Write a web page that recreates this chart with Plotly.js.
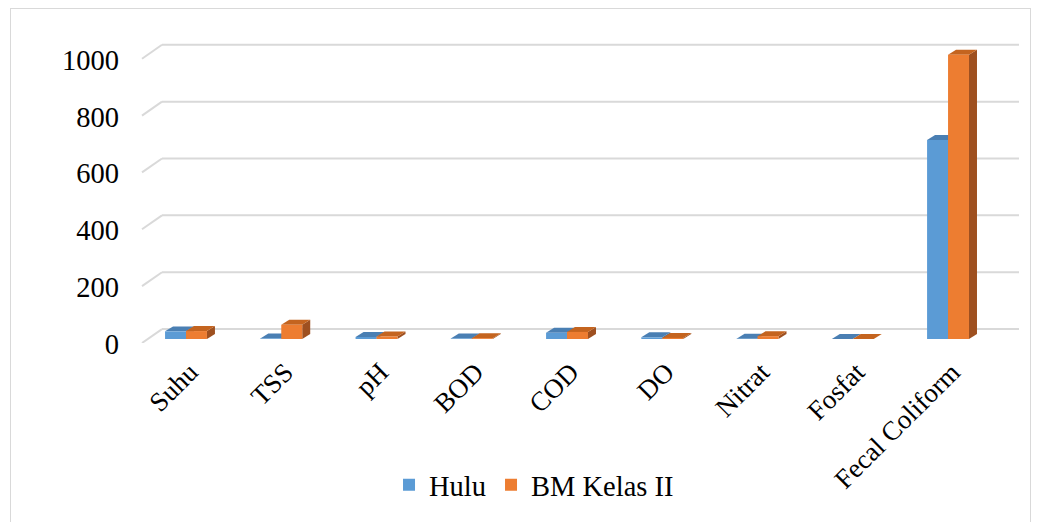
<!DOCTYPE html>
<html>
<head>
<meta charset="utf-8">
<script src="https://cdn.plot.ly/plotly-3.0.1.min.js"></script>
<style>
  html, body { margin: 0; padding: 0; background: #ffffff; }
  #chart { width: 1042px; height: 522px; position: relative; }
  #frame { position: absolute; left: 10px; top: 8px; width: 1021px; height: 530px;
           border: 1px solid #d9d9d9; box-sizing: border-box; pointer-events: none; }
</style>
</head>
<body>
<div id="chart"></div>
<div id="frame"></div>
<script>
// ---- data ----
const categories = ["Suhu", "TSS", "pH", "BOD", "COD", "DO", "Nitrat", "Fosfat", "Fecal Coliform"];
const huluValues = [27, 2, 7.2, 2, 22, 6, 1, 0.1, 700];
const bmValues   = [28, 50, 9, 3, 25, 4, 10, 0.2, 1000];
const seriesNames = ["Hulu", "BM Kelas II"];
const yTicks = [0, 200, 400, 600, 800, 1000];

// ---- geometry / styling ----
const W = 1042, H = 522;
const M = {l: 142, r: 23, t: 30, b: 177};
const plotW = W - M.l - M.r, plotH = H - M.t - M.b;
const xRange = [-0.462, 8.745];
const yRange = [-14, 1087];
const pxPerX = plotW / (xRange[1] - xRange[0]);
const pxPerY = plotH / (yRange[1] - yRange[0]);
const BAR_W = 0.22;              // each bar width in category units (bargap 0.56)
const BAR_DX = 8 / pxPerX;       // bar depth, horizontal
const BAR_DY = 5 / pxPerY;       // bar depth, vertical
const WALL_DX = 20 / plotW;      // wall depth in paper units
const GRID_BACK = 10 / pxPerY;   // back gridline above bar zero
const GRID_FRONT = -4 / pxPerY;  // front floor edge below bar zero

const colors = {
  hulu: {front: "#5b9bd5", top: "#4a7fb3", side: "#41719c"},
  bm:   {front: "#ed7d31", top: "#c4641f", side: "#9e5020"}
};
const FONT = "Liberation Serif, Times New Roman, serif";
const FS = 28.5;
const FSX = 27;

const shapes = [];
// gridlines (back wall + left wall diagonals)
yTicks.forEach(t => {
  shapes.push({type: "line", layer: "below", xref: "paper", yref: "y",
    x0: WALL_DX, x1: 1, y0: t + GRID_BACK, y1: t + GRID_BACK,
    line: {color: "#d9d9d9", width: 2}});
  shapes.push({type: "line", layer: "below", xref: "paper", yref: "y",
    x0: 0, x1: WALL_DX, y0: t + GRID_FRONT, y1: t + GRID_BACK,
    line: {color: "#d9d9d9", width: 2}});
});

function poly(pts) {
  return "M" + pts.map(p => p[0] + "," + p[1]).join(" L") + " Z";
}
function faces(x0, v, c) {
  const x1 = x0 + BAR_W;
  shapes.push({type: "path", layer: "between", xref: "x", yref: "y",
    path: poly([[x1, 0], [x1 + BAR_DX, BAR_DY], [x1 + BAR_DX, v + BAR_DY], [x1, v]]),
    fillcolor: c.side, line: {width: 0}});
  shapes.push({type: "path", layer: "between", xref: "x", yref: "y",
    path: poly([[x0, v], [x1, v], [x1 + BAR_DX, v + BAR_DY], [x0 + BAR_DX, v + BAR_DY]]),
    fillcolor: c.top, line: {width: 0}});
}
categories.forEach((c, i) => {
  faces(i - BAR_W, huluValues[i], colors.hulu);
  faces(i, bmValues[i], colors.bm);
});

const idx = categories.map((c, i) => i);
const traces = [
  {type: "bar", name: seriesNames[0], x: idx, y: huluValues,
   marker: {color: colors.hulu.front, line: {width: 0}}, hoverinfo: "skip"},
  {type: "bar", name: seriesNames[1], x: idx, y: bmValues,
   marker: {color: colors.bm.front, line: {width: 0}}, hoverinfo: "skip"}
];

const layout = {
  width: W, height: H,
  margin: M,
  paper_bgcolor: "rgba(0,0,0,0)", plot_bgcolor: "rgba(0,0,0,0)",
  barmode: "group", bargap: 1 - 2 * BAR_W, bargroupgap: 0,
  font: {family: FONT, size: FS, color: "#000000"},
  xaxis: {range: xRange, tickmode: "array", tickvals: idx, ticktext: categories,
          tickangle: -45, showgrid: false, zeroline: false, showline: false,
          ticks: "", ticklabelstandoff: 7, ticklabelshift: 4,
          tickfont: {family: FONT, size: FSX, color: "#000"}},
  yaxis: {range: yRange, tickmode: "array", tickvals: yTicks, ticktext: yTicks.map(String),
          showgrid: false, zeroline: false, showline: false, ticks: "",
          ticklabelstandoff: 22, ticklabelshift: 5,
          tickfont: {family: FONT, size: FS, color: "#000"}},
  showlegend: true,
  legend: {orientation: "h", x: 0.447, y: -0.454, xanchor: "center", yanchor: "middle",
           font: {family: FONT, size: FS, color: "#000"}, itemwidth: 30, tracegroupgap: 0},
  shapes: shapes
};

Plotly.newPlot("chart", traces, layout, {displayModeBar: false, staticPlot: true});
</script>
</body>
</html>
